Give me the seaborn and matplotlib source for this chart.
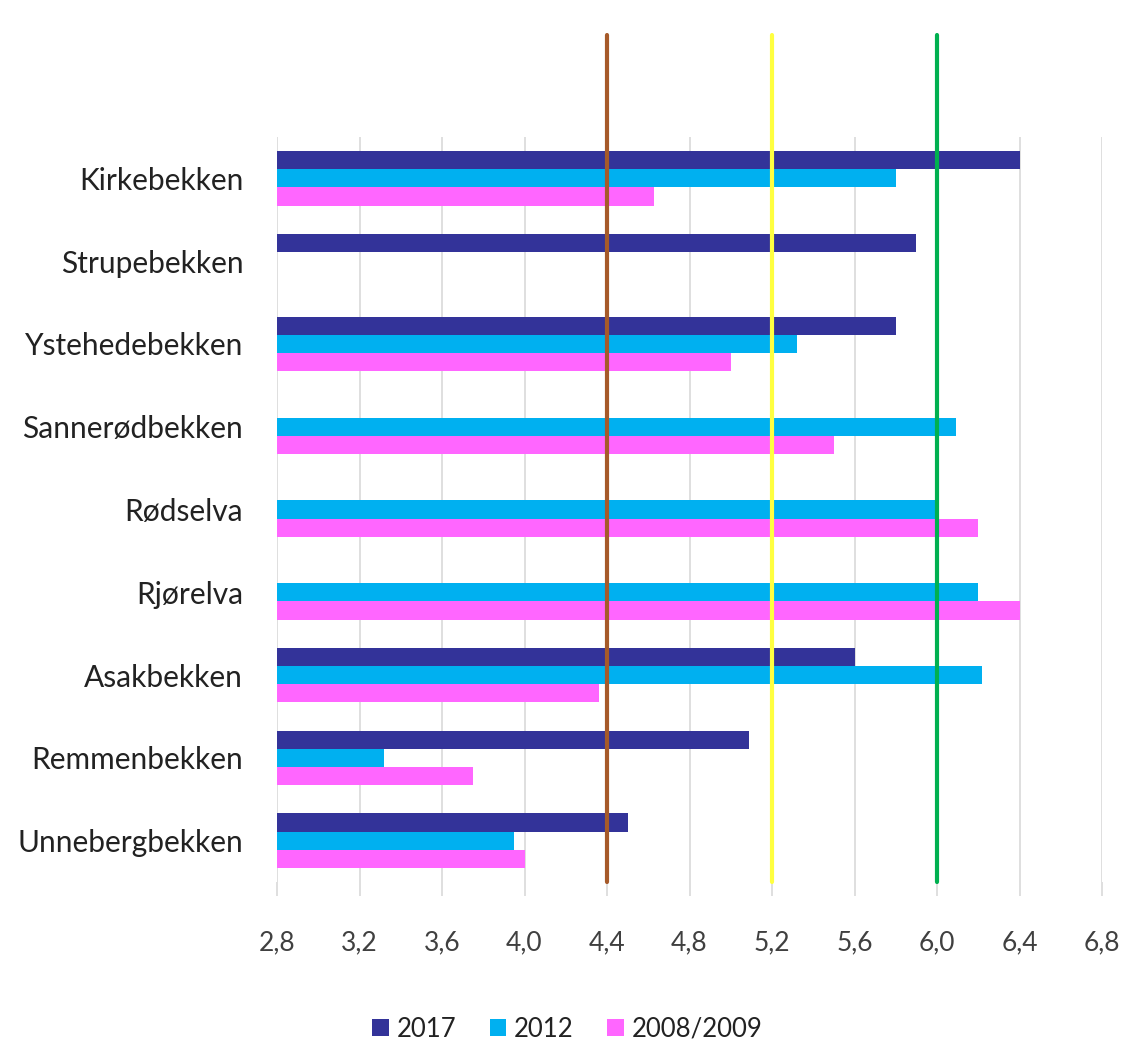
import numpy as np
import pandas as pd
import matplotlib
matplotlib.use("Agg")
import matplotlib.pyplot as plt
import seaborn as sns
from matplotlib.ticker import FuncFormatter, MultipleLocator

# Streams (top to bottom) and measured index values per sampling year
streams = ["Kirkebekken", "Strupebekken", "Ystehedebekken", "Sannerødbekken",
           "Rødselva", "Rjørelva", "Asakbekken", "Remmenbekken", "Unnebergbekken"]
years = ["2017", "2012", "2008/2009"]
vals_2017 = [6.40, 5.90, 5.80, np.nan, np.nan, np.nan, 5.60, 5.09, 4.50]
vals_2012 = [5.80, np.nan, 5.32, 6.09, 5.99, 6.20, 6.22, 3.32, 3.95]
vals_2008 = [4.63, np.nan, 5.00, 5.50, 6.20, 6.40, 4.36, 3.75, 4.00]

# Class boundaries shown as vertical reference lines
thresholds = [4.4, 5.2, 6.0]
threshold_colors = ["#A65A2A", "#FFFF40", "#00B050"]

year_colors = ["#333399", "#00B0F0", "#FF66FF"]

df = pd.DataFrame({
    "stream": streams * 3,
    "year": [years[0]] * 9 + [years[1]] * 9 + [years[2]] * 9,
    "value": vals_2017 + vals_2012 + vals_2008,
})

sns.set_theme(style="white")
plt.rcParams["font.family"] = ["Lato", "DejaVu Sans"]

fig = plt.figure(figsize=(11.35, 10.63), dpi=100)
ax = fig.add_axes([277 / 1135, 1 - 882 / 1063, (1102 - 277) / 1135, (882 - 137) / 1063])

sns.barplot(data=df, y="stream", x="value", hue="year", order=streams,
            hue_order=years, palette=year_colors, orient="h", width=0.66,
            saturation=1, ax=ax, legend=True, linewidth=0,
            err_kws={"linewidth": 0})

ax.set_xlim(2.8, 6.8)
ax.xaxis.set_major_locator(MultipleLocator(0.4))
ax.xaxis.set_major_formatter(FuncFormatter(lambda v, p: f"{v:.1f}".replace(".", ",")))
ax.grid(axis="x", color="#D9D9D9", linewidth=1.2)
ax.grid(axis="y", visible=False)
ax.set_axisbelow(True)
for s in ax.spines.values():
    s.set_visible(False)
ax.set_xlabel("")
ax.set_ylabel("")
ax.tick_params(axis="x", labelsize=19, labelcolor="#404040", length=10,
               color="#D9D9D9", width=1.2, pad=25, direction="out", bottom=True)
ax.tick_params(axis="y", labelsize=21.5, labelcolor="#222222", length=0, pad=33)
for lbl in ax.get_yticklabels():
    lbl.set_x(lbl.get_position()[0] + 12 / 825)

for t, c in zip(thresholds, threshold_colors):
    ax.axvline(t, ymin=0, ymax=1 + 102 / 745, color=c, linewidth=3,
               clip_on=False, zorder=5)

leg = ax.legend(loc="upper center", bbox_to_anchor=(0.352, -0.15), ncol=3,
                frameon=False, fontsize=18.5, handlelength=0.65, handleheight=0.65,
                handletextpad=0.3, columnspacing=1.3)
for txt in leg.get_texts():
    txt.set_color("#222222")

fig.savefig("out.png", dpi=100, facecolor="white")
